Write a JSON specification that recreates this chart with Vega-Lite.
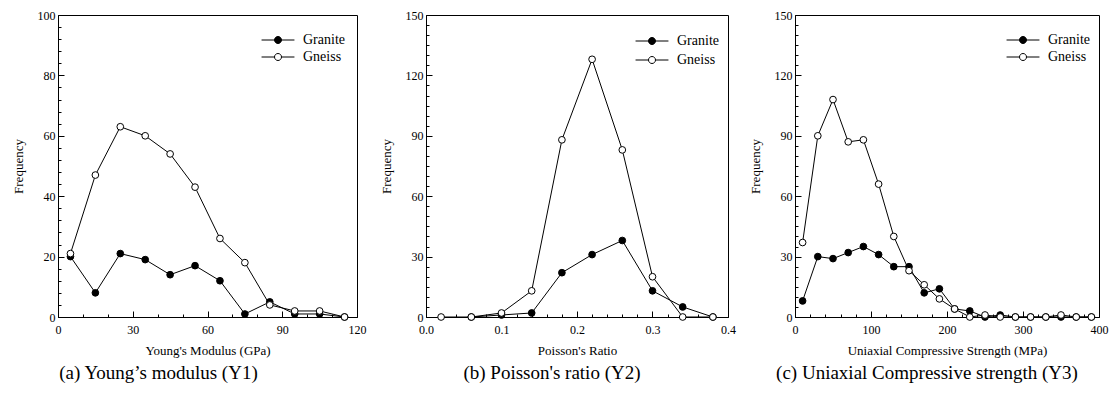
{
  "$schema": "https://vega.github.io/schema/vega-lite/v6.json",
  "autosize": {"type": "pad"},
  "padding": {"left": 11, "top": 8, "right": 2, "bottom": 2},
  "spacing": 12,
  "config": {
    "font": "Liberation Serif",
    "view": {"stroke": "black", "strokeWidth": 1},
    "axis": {"grid": false, "labelFlush": false, "domainColor": "black", "tickColor": "black", "labelColor": "black", "titleColor": "black", "labelFont": "Liberation Serif", "titleFont": "Liberation Serif", "labelFontSize": 12, "titleFontSize": 13, "titleFontWeight": "normal", "domainWidth": 1, "tickWidth": 1},
    "legend": {"labelFont": "Liberation Serif", "labelFontSize": 14, "labelColor": "black"},
    "title": {"font": "Liberation Serif", "fontSize": 19, "fontWeight": "normal", "color": "black"},
    "text": {"font": "Liberation Serif"}
  },
  "datasets": {
    "young": [
      {"series": "Granite", "x": 5, "y": 20}, {"series": "Granite", "x": 15, "y": 8}, {"series": "Granite", "x": 25, "y": 21}, {"series": "Granite", "x": 35, "y": 19}, {"series": "Granite", "x": 45, "y": 14}, {"series": "Granite", "x": 55, "y": 17}, {"series": "Granite", "x": 65, "y": 12}, {"series": "Granite", "x": 75, "y": 1}, {"series": "Granite", "x": 85, "y": 5}, {"series": "Granite", "x": 95, "y": 1}, {"series": "Granite", "x": 105, "y": 1}, {"series": "Granite", "x": 115, "y": 0},
      {"series": "Gneiss", "x": 5, "y": 21}, {"series": "Gneiss", "x": 15, "y": 47}, {"series": "Gneiss", "x": 25, "y": 63}, {"series": "Gneiss", "x": 35, "y": 60}, {"series": "Gneiss", "x": 45, "y": 54}, {"series": "Gneiss", "x": 55, "y": 43}, {"series": "Gneiss", "x": 65, "y": 26}, {"series": "Gneiss", "x": 75, "y": 18}, {"series": "Gneiss", "x": 85, "y": 4}, {"series": "Gneiss", "x": 95, "y": 2}, {"series": "Gneiss", "x": 105, "y": 2}, {"series": "Gneiss", "x": 115, "y": 0}
    ],
    "poisson": [
      {"series": "Granite", "x": 0.06, "y": 0}, {"series": "Granite", "x": 0.10, "y": 1}, {"series": "Granite", "x": 0.14, "y": 2}, {"series": "Granite", "x": 0.18, "y": 22}, {"series": "Granite", "x": 0.22, "y": 31}, {"series": "Granite", "x": 0.26, "y": 38}, {"series": "Granite", "x": 0.30, "y": 13}, {"series": "Granite", "x": 0.34, "y": 5}, {"series": "Granite", "x": 0.38, "y": 0},
      {"series": "Gneiss", "x": 0.02, "y": 0}, {"series": "Gneiss", "x": 0.06, "y": 0}, {"series": "Gneiss", "x": 0.10, "y": 2}, {"series": "Gneiss", "x": 0.14, "y": 13}, {"series": "Gneiss", "x": 0.18, "y": 88}, {"series": "Gneiss", "x": 0.22, "y": 128}, {"series": "Gneiss", "x": 0.26, "y": 83}, {"series": "Gneiss", "x": 0.30, "y": 20}, {"series": "Gneiss", "x": 0.34, "y": 0}, {"series": "Gneiss", "x": 0.38, "y": 0}
    ],
    "ucs": [
      {"series": "Granite", "x": 10, "y": 8}, {"series": "Granite", "x": 30, "y": 30}, {"series": "Granite", "x": 50, "y": 29}, {"series": "Granite", "x": 70, "y": 32}, {"series": "Granite", "x": 90, "y": 35}, {"series": "Granite", "x": 110, "y": 31}, {"series": "Granite", "x": 130, "y": 25}, {"series": "Granite", "x": 150, "y": 25}, {"series": "Granite", "x": 170, "y": 12}, {"series": "Granite", "x": 190, "y": 14}, {"series": "Granite", "x": 210, "y": 4}, {"series": "Granite", "x": 230, "y": 3}, {"series": "Granite", "x": 250, "y": 0}, {"series": "Granite", "x": 270, "y": 1}, {"series": "Granite", "x": 290, "y": 0}, {"series": "Granite", "x": 310, "y": 0}, {"series": "Granite", "x": 330, "y": 0}, {"series": "Granite", "x": 350, "y": 0}, {"series": "Granite", "x": 370, "y": 0}, {"series": "Granite", "x": 390, "y": 0},
      {"series": "Gneiss", "x": 10, "y": 37}, {"series": "Gneiss", "x": 30, "y": 90}, {"series": "Gneiss", "x": 50, "y": 108}, {"series": "Gneiss", "x": 70, "y": 87}, {"series": "Gneiss", "x": 90, "y": 88}, {"series": "Gneiss", "x": 110, "y": 66}, {"series": "Gneiss", "x": 130, "y": 40}, {"series": "Gneiss", "x": 150, "y": 23}, {"series": "Gneiss", "x": 170, "y": 16}, {"series": "Gneiss", "x": 190, "y": 9}, {"series": "Gneiss", "x": 210, "y": 4}, {"series": "Gneiss", "x": 230, "y": 0}, {"series": "Gneiss", "x": 250, "y": 1}, {"series": "Gneiss", "x": 270, "y": 0}, {"series": "Gneiss", "x": 290, "y": 0}, {"series": "Gneiss", "x": 310, "y": 0}, {"series": "Gneiss", "x": 330, "y": 0}, {"series": "Gneiss", "x": 350, "y": 1}, {"series": "Gneiss", "x": 370, "y": 0}, {"series": "Gneiss", "x": 390, "y": 0}
    ]
  },
  "hconcat": [
    {
      "width": 299, "height": 302,
      "data": {"name": "young"},
      "title": {"text": "(a) Young’s modulus (Y1)", "orient": "bottom", "anchor": "middle", "dx": -49, "offset": 7, "font": "Liberation Serif"},
      "layer": [
        {"mark": {"type": "line", "color": "black", "strokeWidth": 1},
         "encoding": {
           "x": {"field": "x", "type": "quantitative", "scale": {"domain": [0, 120], "nice": false}, "axis": {"orient": "bottom", "values": [0, 30, 60, 90, 120], "tickSize": -6, "labelPadding": 13, "labelFont": "Liberation Serif", "titleFont": "Liberation Serif", "title": "Young's Modulus (GPa)", "titlePadding": 9}},
           "y": {"field": "y", "type": "quantitative", "scale": {"domain": [0, 100], "nice": false}, "axis": {"orient": "left", "values": [0, 20, 40, 60, 80, 100], "tickSize": -6, "labelPadding": 9, "labelFont": "Liberation Serif", "titleFont": "Liberation Serif", "title": "Frequency", "titlePadding": 12}},
           "detail": {"field": "series"}}},
        {"mark": {"type": "point", "filled": true, "stroke": "black", "strokeWidth": 1, "size": 45, "opacity": 1},
         "encoding": {
           "x": {"field": "x", "type": "quantitative", "axis": null},
           "y": {"field": "y", "type": "quantitative", "axis": null},
           "fill": {"field": "series", "type": "nominal", "scale": {"domain": ["Granite", "Gneiss"], "range": ["black", "white"]},
             "legend": {"title": null, "orient": "none", "legendX": 213, "legendY": 18, "labelFont": "Liberation Serif", "symbolType": "M-4.7,0L-1,0M1,0L4.7,0M-1,0A1,1 0 1,1 1,0A1,1 0 1,1 -1,0Z", "symbolSize": 49, "symbolStrokeColor": "black", "symbolStrokeWidth": 1, "labelOffset": 18, "rowPadding": 3}}}},
        {"mark": {"type": "point", "opacity": 0},
         "encoding": {
           "x": {"field": "x", "type": "quantitative", "axis": {"orient": "bottom", "values": [10, 20, 40, 50, 70, 80, 100, 110], "tickSize": -3, "labels": false, "domain": false, "title": null}},
           "y": {"field": "y", "type": "quantitative", "axis": {"orient": "left", "values": [4, 8, 12, 16, 24, 28, 32, 36, 44, 48, 52, 56, 64, 68, 72, 76, 84, 88, 92, 96], "tickSize": -3, "labels": false, "domain": false, "title": null}}}}
      ],
      "resolve": {"axis": {"x": "independent", "y": "independent"}}
    },
    {
      "width": 302, "height": 302,
      "data": {"name": "poisson"},
      "title": {"text": "(b) Poisson's ratio (Y2)", "orient": "bottom", "anchor": "middle", "dx": -25, "offset": 7, "font": "Liberation Serif"},
      "layer": [
        {"mark": {"type": "line", "color": "black", "strokeWidth": 1},
         "encoding": {
           "x": {"field": "x", "type": "quantitative", "scale": {"domain": [0, 0.4], "nice": false}, "axis": {"orient": "bottom", "values": [0, 0.1, 0.2, 0.3, 0.4], "format": ".1f", "tickSize": -6, "labelPadding": 13, "labelFont": "Liberation Serif", "titleFont": "Liberation Serif", "title": "Poisson's Ratio", "titlePadding": 9}},
           "y": {"field": "y", "type": "quantitative", "scale": {"domain": [0, 150], "nice": false}, "axis": {"orient": "left", "values": [0, 30, 60, 90, 120, 150], "tickSize": -6, "labelPadding": 9, "labelFont": "Liberation Serif", "titleFont": "Liberation Serif", "title": "Frequency", "titlePadding": 12}},
           "detail": {"field": "series"}}},
        {"mark": {"type": "point", "filled": true, "stroke": "black", "strokeWidth": 1, "size": 45, "opacity": 1},
         "encoding": {
           "x": {"field": "x", "type": "quantitative", "axis": null},
           "y": {"field": "y", "type": "quantitative", "axis": null},
           "fill": {"field": "series", "type": "nominal", "scale": {"domain": ["Granite", "Gneiss"], "range": ["black", "white"]},
             "legend": {"title": null, "orient": "none", "legendX": 219, "legendY": 19, "labelFont": "Liberation Serif", "symbolType": "M-4.7,0L-1,0M1,0L4.7,0M-1,0A1,1 0 1,1 1,0A1,1 0 1,1 -1,0Z", "symbolSize": 49, "symbolStrokeColor": "black", "symbolStrokeWidth": 1, "labelOffset": 18, "rowPadding": 5}}}},
        {"mark": {"type": "point", "opacity": 0},
         "encoding": {
           "x": {"field": "x", "type": "quantitative", "axis": {"orient": "bottom", "values": [0.02, 0.04, 0.06, 0.08, 0.12, 0.14, 0.16, 0.18, 0.22, 0.24, 0.26, 0.28, 0.32, 0.34, 0.36, 0.38], "tickSize": -3, "labels": false, "domain": false, "title": null}},
           "y": {"field": "y", "type": "quantitative", "axis": {"orient": "left", "values": [5, 10, 15, 20, 25, 35, 40, 45, 50, 55, 65, 70, 75, 80, 85, 95, 100, 105, 110, 115, 125, 130, 135, 140, 145], "tickSize": -3, "labels": false, "domain": false, "title": null}}}}
      ],
      "resolve": {"axis": {"x": "independent", "y": "independent"}}
    },
    {
      "width": 304, "height": 302,
      "data": {"name": "ucs"},
      "title": {"text": "(c) Uniaxial Compressive strength (Y3)", "orient": "bottom", "anchor": "middle", "dx": -20, "offset": 7, "font": "Liberation Serif"},
      "layer": [
        {"mark": {"type": "line", "color": "black", "strokeWidth": 1},
         "encoding": {
           "x": {"field": "x", "type": "quantitative", "scale": {"domain": [0, 400], "nice": false}, "axis": {"orient": "bottom", "values": [0, 100, 200, 300, 400], "tickSize": -6, "labelPadding": 13, "labelFont": "Liberation Serif", "titleFont": "Liberation Serif", "title": "Uniaxial Compressive Strength (MPa)", "titlePadding": 9}},
           "y": {"field": "y", "type": "quantitative", "scale": {"domain": [0, 150], "nice": false}, "axis": {"orient": "left", "values": [0, 30, 60, 90, 120, 150], "tickSize": -6, "labelPadding": 9, "labelFont": "Liberation Serif", "titleFont": "Liberation Serif", "title": "Frequency", "titlePadding": 12}},
           "detail": {"field": "series"}}},
        {"mark": {"type": "point", "filled": true, "stroke": "black", "strokeWidth": 1, "size": 45, "opacity": 1},
         "encoding": {
           "x": {"field": "x", "type": "quantitative", "axis": null},
           "y": {"field": "y", "type": "quantitative", "axis": null},
           "fill": {"field": "series", "type": "nominal", "scale": {"domain": ["Granite", "Gneiss"], "range": ["black", "white"]},
             "legend": {"title": null, "orient": "none", "legendX": 221, "legendY": 18, "labelFont": "Liberation Serif", "symbolType": "M-4.7,0L-1,0M1,0L4.7,0M-1,0A1,1 0 1,1 1,0A1,1 0 1,1 -1,0Z", "symbolSize": 49, "symbolStrokeColor": "black", "symbolStrokeWidth": 1, "labelOffset": 18, "rowPadding": 3}}}},
        {"mark": {"type": "point", "opacity": 0},
         "encoding": {
           "x": {"field": "x", "type": "quantitative", "axis": {"orient": "bottom", "values": [20, 40, 60, 80, 120, 140, 160, 180, 220, 240, 260, 280, 320, 340, 360, 380], "tickSize": -3, "labels": false, "domain": false, "title": null}},
           "y": {"field": "y", "type": "quantitative", "axis": {"orient": "left", "values": [5, 10, 15, 20, 25, 35, 40, 45, 50, 55, 65, 70, 75, 80, 85, 95, 100, 105, 110, 115, 125, 130, 135, 140, 145], "tickSize": -3, "labels": false, "domain": false, "title": null}}}}
      ],
      "resolve": {"axis": {"x": "independent", "y": "independent"}}
    }
  ],
  "resolve": {"scale": {"fill": "independent"}, "legend": {"fill": "independent"}}
}
